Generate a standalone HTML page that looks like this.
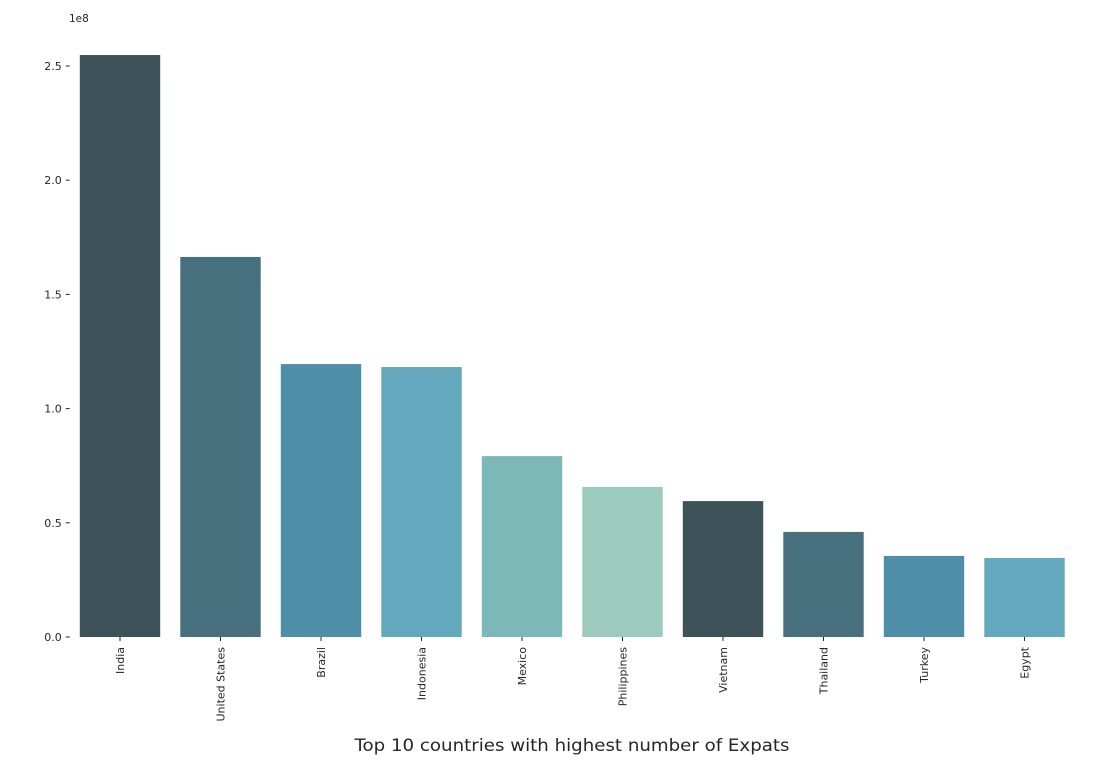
<!DOCTYPE html>
<html><head><meta charset="utf-8"><style>
body{margin:0;background:#fff;}
svg text{font-family:"DejaVu Sans","Liberation Sans",sans-serif;fill:#262626;}
</style></head><body>
<svg id="chart" width="1093" height="762" xmlns="http://www.w3.org/2000/svg">
<g id="bars"></g>
<g id="yaxis"></g>
<g id="xaxis"></g>
<text x="69" y="22" font-size="10.5">1e8</text>
<text x="572" y="751" font-size="17" text-anchor="middle" textLength="435" lengthAdjust="spacingAndGlyphs">Top 10 countries with highest number of Expats</text>
</svg>
<script>
const categories=["India","United States","Brazil","Indonesia","Mexico","Philippines","Vietnam","Thailand","Turkey","Egypt"];
const values=[2.548,1.664,1.195,1.182,0.792,0.657,0.595,0.460,0.355,0.346];
const yTicks=[0,0.5,1.0,1.5,2.0,2.5];
const yTickLabels=["0.0","0.5","1.0","1.5","2.0","2.5"];
const palette=["#3e525a","#47707f","#4f8ea8","#63a8bc","#7db8b9","#9ccabc"];
const NS="http://www.w3.org/2000/svg";
const left=69.75,right=1074.75,y0=637,pxPerUnit=228.4;
const band=(right-left)/categories.length;
function xC(i){return left+band*(i+0.5);}
function yS(v){return y0-v*pxPerUnit;}
function mk(t,a,p){const e=document.createElementNS(NS,t);for(const k in a)e.setAttribute(k,a[k]);p.appendChild(e);return e;}
const gb=document.getElementById('bars'),gy=document.getElementById('yaxis'),gx=document.getElementById('xaxis');
values.forEach((v,i)=>{
  const r=mk('rect',{x:xC(i)-band*0.4,y:yS(v),width:band*0.8,height:y0-yS(v),fill:palette[i%palette.length]},gb);
  
  
  const tk=mk('line',{x1:xC(i),x2:xC(i),y1:y0,y2:y0+4,stroke:'#262626','stroke-width':1},gx);
  
  
  const t=mk('text',{transform:`translate(${xC(i)+4},${y0+10}) rotate(-90)`,'font-size':11,'text-anchor':'end'},gx);
  t.textContent=categories[i];
  
  
});
yTicks.forEach((v,i)=>{
  const tk=mk('line',{x1:left-4,x2:left,y1:yS(v),y2:yS(v),stroke:'#262626','stroke-width':1},gy);
  
  
  const t=mk('text',{x:left-8,y:yS(v)+4,'font-size':11,'text-anchor':'end'},gy);
  t.textContent=yTickLabels[i];
  
  
});
</script>
</body></html>
